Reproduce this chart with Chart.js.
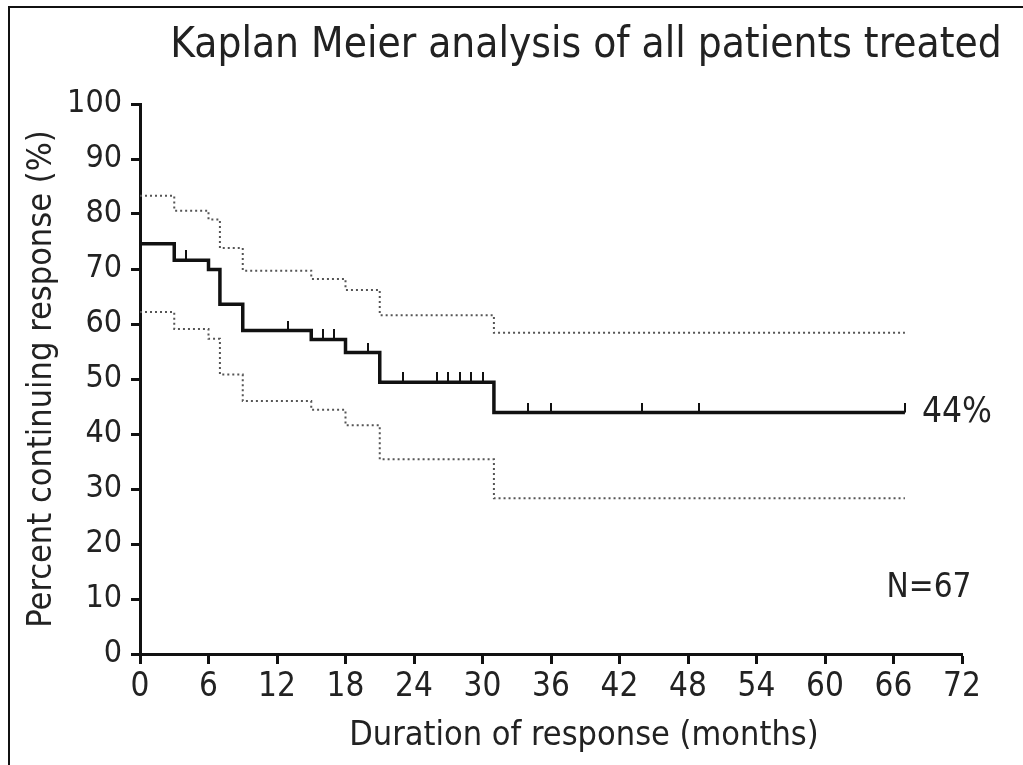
<!DOCTYPE html>
<html>
<head>
<meta charset="utf-8">
<script src="https://cdn.jsdelivr.net/npm/chart.js@4/dist/chart.umd.min.js"></script>
<style>
  html, body { margin: 0; padding: 0; background: #fff; overflow: hidden; }
  #wrap { position: relative; width: 1023px; height: 765px; }
  #frame { position: absolute; left: 8px; top: 6px; width: 1100px; height: 800px;
           border-top: 2px solid #111; border-left: 2px solid #111; pointer-events: none; }
</style>
</head>
<body>
<div id="wrap">
  <canvas id="kmChart" width="1023" height="765"></canvas>
  <div id="frame"></div>
</div>
<script>
const FONT = '"DejaVu Sans Condensed", "Liberation Sans Narrow", sans-serif';

// step times (months) and Kaplan-Meier estimate with 95% CI (%)
const months   = [0, 3, 6, 7, 9, 15, 18, 21, 31, 67];
const survival = [74.6, 71.6, 69.9, 63.6, 58.8, 57.2, 54.8, 49.4, 43.9, 43.9];
const upperCI  = [83.3, 80.6, 79.0, 73.8, 69.7, 68.2, 66.2, 61.6, 58.4, 58.4];
const lowerCI  = [62.2, 59.1, 57.3, 50.8, 46.0, 44.4, 41.6, 35.4, 28.3, 28.3];
// censored observations (months)
const censored = [4, 13, 16, 17, 20, 23, 26, 27, 28, 29, 30, 34, 36, 44, 49, 67];
const nPatients = 67;

const xTicks = [0, 6, 12, 18, 24, 30, 36, 42, 48, 54, 60, 66, 72];
const yTicks = [0, 10, 20, 30, 40, 50, 60, 70, 80, 90, 100];

function toPoints(ys) {
  return months.map((m, i) => ({ x: m, y: ys[i] }));
}

// survival value in effect at time t
function survivalAt(t) {
  let v = survival[0];
  for (let i = 0; i < months.length; i++) {
    if (months[i] <= t) v = survival[i];
  }
  return v;
}

// small upward tick used as the censor marker
const censorMark = document.createElement('canvas');
censorMark.width = 2;
censorMark.height = 20;
const cm = censorMark.getContext('2d');
cm.fillStyle = '#111';
cm.fillRect(0, 0, 2, 10);

const textLabels = {
  id: 'textLabels',
  afterDraw(chart) {
    const ctx = chart.ctx;
    const x = chart.scales.x, y = chart.scales.y;
    ctx.save();
    ctx.fillStyle = '#222';
    ctx.textBaseline = 'middle';

    ctx.textAlign = 'center';
    ctx.font = '42px ' + FONT;
    ctx.fillText('Kaplan Meier analysis of all patients treated', 586, 46);

    ctx.font = '34px ' + FONT;
    ctx.fillText('Duration of response (months)', 584, 736);

    const last = survival[survival.length - 1];
    ctx.textAlign = 'left';
    ctx.font = '35px ' + FONT;
    ctx.fillText(Math.round(last) + '%', x.getPixelForValue(months[months.length - 1]) + 17, y.getPixelForValue(last));

    ctx.textAlign = 'center';
    ctx.font = '33px ' + FONT;
    ctx.fillText('N=' + nPatients, 929, y.getPixelForValue(12));
    ctx.restore();
  }
};

const ctx = document.getElementById('kmChart').getContext('2d');
new Chart(ctx, {
  type: 'line',
  data: {
    datasets: [
      {
        label: 'Upper 95% CI',
        data: toPoints(upperCI),
        stepped: 'before',
        borderColor: '#555',
        borderWidth: 2,
        borderDash: [2, 3],
        pointRadius: 0,
        fill: false
      },
      {
        label: 'Lower 95% CI',
        data: toPoints(lowerCI),
        stepped: 'before',
        borderColor: '#555',
        borderWidth: 2,
        borderDash: [2, 3],
        pointRadius: 0,
        fill: false
      },
      {
        label: 'Percent continuing response',
        data: toPoints(survival),
        stepped: 'before',
        borderColor: '#111',
        borderWidth: 3.5,
        pointRadius: 0,
        fill: false
      },
      {
        label: 'Censored',
        data: censored.map(t => ({ x: t, y: survivalAt(t) })),
        showLine: false,
        pointStyle: censorMark,
        pointRadius: 5,
        pointHoverRadius: 5
      }
    ]
  },
  options: {
    responsive: false,
    animation: false,
    layout: { padding: { top: 104, right: 61, bottom: 0, left: 0 } },
    plugins: {
      legend: { display: false },
      tooltip: { enabled: false }
    },
    scales: {
      x: {
        type: 'linear',
        min: 0,
        max: 72,
        afterBuildTicks: s => { s.ticks = xTicks.map(v => ({ value: v })); },
        afterFit: s => { s.height = 111; },
        border: { color: '#111', width: 3 },
        grid: { drawOnChartArea: false, tickLength: 10, tickColor: '#111', tickWidth: 3 },
        ticks: { color: '#222', padding: 4, font: { family: FONT, size: 33 }, maxRotation: 0 }
      },
      y: {
        min: 0,
        max: 100,
        afterBuildTicks: s => { s.ticks = yTicks.map(v => ({ value: v })); },
        afterFit: s => { s.width = 140; },
        border: { color: '#111', width: 3 },
        grid: { drawOnChartArea: false, tickLength: 9, tickColor: '#111', tickWidth: 3 },
        ticks: { color: '#222', padding: 9, font: { family: FONT, size: 32 } },
        title: {
          display: true,
          text: 'Percent continuing response (%)',
          color: '#222',
          font: { family: FONT, size: 34 },
          padding: { top: 22, bottom: 0 }
        }
      }
    }
  },
  plugins: [textLabels]
});
</script>
</body>
</html>
